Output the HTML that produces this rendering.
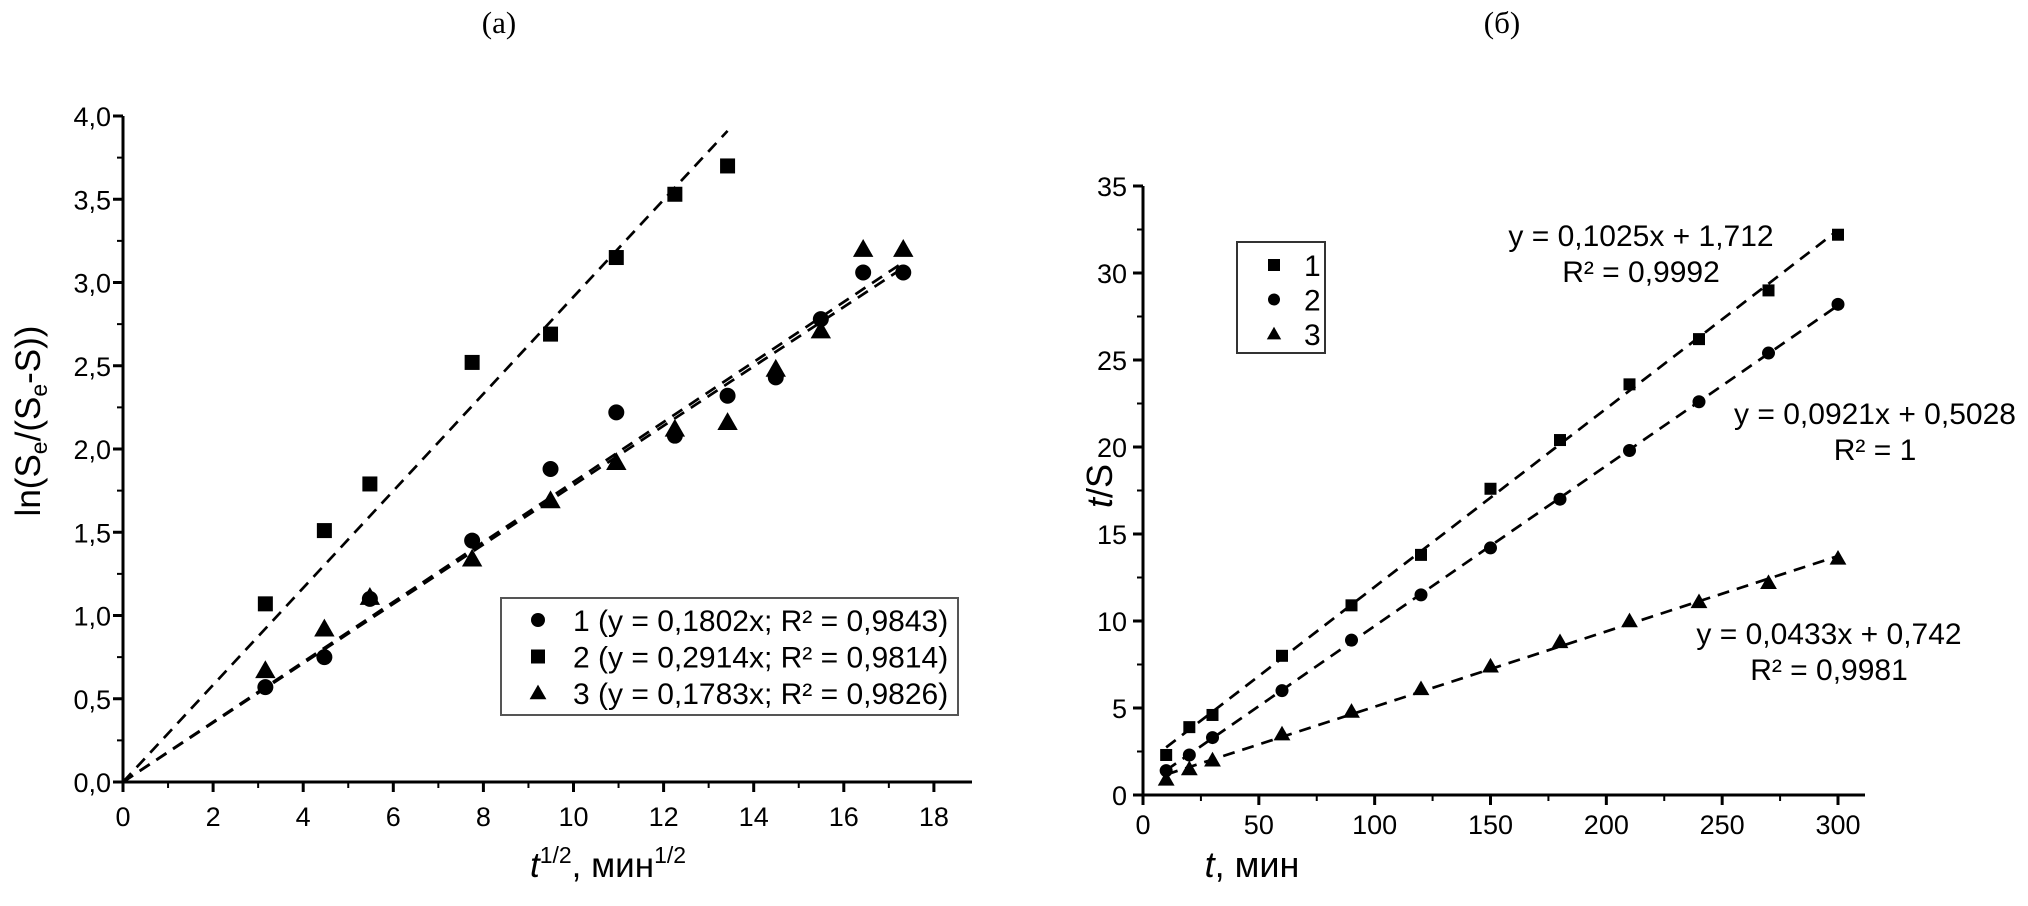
<!DOCTYPE html>
<html><head><meta charset="utf-8"><style>
html,body{margin:0;padding:0;background:#fff;}
svg{display:block;font-family:"Liberation Sans",sans-serif;}
</style></head><body>
<svg id="svg" width="2028" height="906" viewBox="0 0 2028 906" xmlns="http://www.w3.org/2000/svg">
<text x="499" y="33" font-family="Liberation Serif,serif" font-size="31" text-anchor="middle">(a)</text>
<text x="1502" y="33" font-family="Liberation Serif,serif" font-size="31" text-anchor="middle">(б)</text>
<g id="A"></g>
<g id="B"></g>
</svg>
<script>
// ---- Chart A data ----
const aX = [3.16,4.47,5.48,7.75,9.49,10.95,12.25,13.42,14.49,15.49,16.43,17.32];
const aS1 = [0.57,0.75,1.10,1.45,1.88,2.22,2.08,2.32,2.43,2.78,3.06,3.06];
const aS2 = [1.07,1.51,1.79,2.52,2.69,3.15,3.53,3.70];
const aS3 = [0.67,0.92,1.11,1.34,1.69,1.92,2.12,2.16,2.48,2.71,3.20,3.20];
const aSlopes = [0.1802,0.2914,0.1783];
const aFitEnd = [17.32,13.42,17.32];
const aXTicks = [0,2,4,6,8,10,12,14,16,18];
const aYTicks = [0,0.5,1,1.5,2,2.5,3,3.5,4];
const aLegend = ["1 (y = 0,1802x; R² = 0,9843)","2 (y = 0,2914x; R² = 0,9814)","3 (y = 0,1783x; R² = 0,9826)"];
// ---- Chart B data ----
const bX = [10,20,30,60,90,120,150,180,210,240,270,300];
const bS1 = [2.3,3.9,4.6,8.0,10.9,13.8,17.6,20.4,23.6,26.2,29.0,32.2];
const bS2 = [1.4,2.3,3.3,6.0,8.9,11.5,14.2,17.0,19.8,22.6,25.4,28.2];
const bS3 = [0.9,1.5,2.0,3.5,4.8,6.1,7.4,8.8,10.0,11.1,12.2,13.6];
const bSlopes = [0.1025,0.0921,0.0433];
const bIntercepts = [1.712,0.5028,0.742];
const bXTicks = [0,50,100,150,200,250,300];
const bYTicks = [0,5,10,15,20,25,30,35];
const bLegend = ["1","2","3"];

const NS="http://www.w3.org/2000/svg";
function mk(p,tag,at,txt){const e=document.createElementNS(NS,tag);for(const k in at)e.setAttribute(k,at[k]);if(txt!==undefined)e.textContent=txt;p.appendChild(e);return e;}
function marker(p,type,cx,cy,s){
  let e;
  if(type==='circle') e=mk(p,'circle',{cx:cx,cy:cy,r:s*0.5,fill:'#000'});
  else if(type==='square') e=mk(p,'rect',{x:cx-s/2,y:cy-s/2,width:s,height:s,fill:'#000'});
  else e=mk(p,'polygon',{points:`${cx},${cy-s*0.6} ${cx-s*0.6},${cy+s*0.45} ${cx+s*0.6},${cy+s*0.45}`,fill:'#000'});
  return e;
}
const types=['circle','square','triangle'];

// ===== Chart A =====
(function(){
const g=document.getElementById('A');
const X0=123,Y0=782,YT=116,XR=972;
const xs=v=>X0+v*45.05, ys=v=>Y0-v*(Y0-YT)/4;
let e=mk(g,'line',{x1:X0,y1:YT,x2:X0,y2:Y0,stroke:'#000','stroke-width':3});


e=mk(g,'line',{x1:X0,y1:Y0,x2:XR,y2:Y0,stroke:'#000','stroke-width':3});


for(let i=0;i<aXTicks.length;i++){const v=aXTicks[i];
  mk(g,'line',{x1:xs(v),y1:Y0,x2:xs(v),y2:Y0+10,stroke:'#000','stroke-width':3});
  if(xs(v+1)<=XR) mk(g,'line',{x1:xs(v+1),y1:Y0,x2:xs(v+1),y2:Y0+6,stroke:'#000','stroke-width':2});
  e=mk(g,'text',{x:xs(v),y:Y0+44,'font-size':27,'text-anchor':'middle'},String(v));
  
  
}
for(let i=0;i<aYTicks.length;i++){const v=aYTicks[i];
  mk(g,'line',{x1:X0-10,y1:ys(v),x2:X0,y2:ys(v),stroke:'#000','stroke-width':3});
  if(i<aYTicks.length-1) mk(g,'line',{x1:X0-6,y1:ys(v+0.25),x2:X0,y2:ys(v+0.25),stroke:'#000','stroke-width':2});
  e=mk(g,'text',{x:X0-12,y:ys(v)+10,'font-size':27,'text-anchor':'end'},v.toFixed(1).replace('.',','));
  
  
}
e=mk(g,'text',{x:608,y:877,'font-size':35,'text-anchor':'middle'});
e.innerHTML='<tspan font-style="italic">t</tspan><tspan font-size="23" dy="-14">1/2</tspan><tspan dy="14">, мин</tspan><tspan font-size="23" dy="-14">1/2</tspan>';


e=mk(g,'text',{x:0,y:0,'font-size':35,'text-anchor':'middle',transform:'translate(40,421) rotate(-90)'});
e.innerHTML='ln(S<tspan font-size="23" dy="7">e</tspan><tspan dy="-7">/(S</tspan><tspan font-size="23" dy="7">e</tspan><tspan dy="-7">-S))</tspan>';


const series=[aS1,aS2,aS3];
for(let s=0;s<3;s++){
  e=mk(g,'line',{x1:xs(0),y1:ys(0),x2:xs(aFitEnd[s]),y2:ys(aSlopes[s]*aFitEnd[s]),stroke:'#000','stroke-width':2.7,'stroke-dasharray':'12,8'});
  
  
}
const sizes={circle:16,square:15,triangle:17};
for(let s=0;s<3;s++){const d=series[s];
  for(let i=0;i<d.length;i++){
    e=marker(g,types[s],xs(aX[i]),ys(d[i]),sizes[types[s]]);
    
    
  }
}
e=mk(g,'rect',{x:501,y:598,width:457,height:117,fill:'#fff',stroke:'#555','stroke-width':2});


for(let s=0;s<3;s++){const cy=620+s*36.5;
  marker(g,types[s],538,cy,14);
  e=mk(g,'text',{x:573,y:cy+11,'font-size':30},aLegend[s]);
  
  
}
})();

// ===== Chart B =====
(function(){
const g=document.getElementById('B');
const X0=1143,Y0=795,YT=186,XR=1865;
const xs=v=>X0+v*(1838-X0)/300, ys=v=>Y0-v*(Y0-YT)/35;
let e=mk(g,'line',{x1:X0,y1:YT,x2:X0,y2:Y0,stroke:'#000','stroke-width':3});


e=mk(g,'line',{x1:X0,y1:Y0,x2:XR,y2:Y0,stroke:'#000','stroke-width':3});


for(let i=0;i<bXTicks.length;i++){const v=bXTicks[i];
  mk(g,'line',{x1:xs(v),y1:Y0,x2:xs(v),y2:Y0+10,stroke:'#000','stroke-width':3});
  if(xs(v+25)<=XR) mk(g,'line',{x1:xs(v+25),y1:Y0,x2:xs(v+25),y2:Y0+6,stroke:'#000','stroke-width':2});
  e=mk(g,'text',{x:xs(v),y:Y0+39,'font-size':27,'text-anchor':'middle'},String(v));
  
  
}
for(let i=0;i<bYTicks.length;i++){const v=bYTicks[i];
  mk(g,'line',{x1:X0-10,y1:ys(v),x2:X0,y2:ys(v),stroke:'#000','stroke-width':3});
  if(i<bYTicks.length-1) mk(g,'line',{x1:X0-6,y1:ys(v+2.5),x2:X0,y2:ys(v+2.5),stroke:'#000','stroke-width':2});
  e=mk(g,'text',{x:X0-16,y:ys(v)+10,'font-size':27,'text-anchor':'end'},String(v));
  
  
}
e=mk(g,'text',{x:1252,y:877,'font-size':36,'text-anchor':'middle'});
e.innerHTML='<tspan font-style="italic">t</tspan>, мин';


e=mk(g,'text',{x:0,y:0,'font-size':36,'text-anchor':'middle',transform:'translate(1112,486) rotate(-90)'});
e.innerHTML='<tspan font-style="italic">t</tspan>/S';


const series=[bS1,bS2,bS3];
const btypes=['square','circle','triangle'];
for(let s=0;s<3;s++){
  const a=bX[0],b=bX[bX.length-1];
  e=mk(g,'line',{x1:xs(a),y1:ys(bSlopes[s]*a+bIntercepts[s]),x2:xs(b),y2:ys(bSlopes[s]*b+bIntercepts[s]),stroke:'#000','stroke-width':2.7,'stroke-dasharray':'12,8'});
  
  
}
const sizes={circle:13,square:12,triangle:14};
for(let s=0;s<3;s++){const d=series[s];
  for(let i=0;i<d.length;i++){
    e=marker(g,btypes[s],xs(bX[i]),ys(d[i]),sizes[btypes[s]]);
    
    
  }
}
const eqs=[["y = 0,1025x + 1,712","R² = 0,9992",1641,246,282],["y = 0,0921x + 0,5028","R² = 1",1875,424,460],["y = 0,0433x + 0,742","R² = 0,9981",1829,644,680]];
for(const q of eqs){
  e=mk(g,'text',{x:q[2],y:q[3],'font-size':30,'text-anchor':'middle'},q[0]);
  
  
  e=mk(g,'text',{x:q[2],y:q[4],'font-size':30,'text-anchor':'middle'},q[1]);
  
  
}
e=mk(g,'rect',{x:1237,y:242,width:88,height:111,fill:'#fff',stroke:'#333','stroke-width':2});


for(let s=0;s<3;s++){const cy=265+s*34.5;
  marker(g,btypes[s],1274,cy,12);
  e=mk(g,'text',{x:1304,y:cy+11,'font-size':30},bLegend[s]);
  
  
}
})();
</script>
</body></html>
